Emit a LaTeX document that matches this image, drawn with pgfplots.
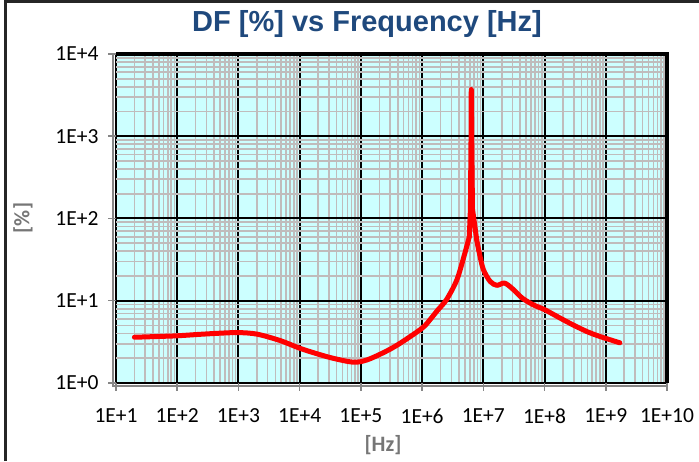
\documentclass[border=0pt]{standalone}
\usepackage{fontspec}
\setmainfont{Carlito}
\newfontfamily\arialfont{Liberation Sans}
\usepackage{pgfplots}
\pgfplotsset{compat=1.18}
\definecolor{bgcyan}{RGB}{204,255,255}
\definecolor{minorgray}{RGB}{192,188,188}
\definecolor{titleblue}{RGB}{31,73,125}
\definecolor{labelgray}{RGB}{118,118,118}
\definecolor{axisgray}{RGB}{134,134,134}
\begin{document}
\begin{tikzpicture}
\path[use as bounding box] (0pt,0pt) rectangle (699pt,461pt);
\begin{axis}[
  at={(116pt,78pt)}, anchor=south west,
  scale only axis, width=551pt, height=329pt,
  xmode=log, ymode=log,
  xmin=10, xmax=1e10, ymin=1, ymax=1e4,
  axis background/.style={fill=bgcyan},
  axis line style={draw=none},
  grid=both,
  major grid style={black, line width=2pt},
  minor grid style={minorgray, line width=1.6pt},
  xtick={1e1,1e2,1e3,1e4,1e5,1e6,1e7,1e8,1e9,1e10},
  xticklabels={1E+1,1E+2,1E+3,1E+4,1E+5,1E+6,1E+7,1E+8,1E+9,1E+10},
  ytick={1,1e1,1e2,1e3,1e4},
  yticklabels={1E+0,1E+1,1E+2,1E+3,1E+4},
  tick align=outside,
  xtick pos=bottom, ytick pos=left,
  major tick length=8pt, minor tick length=0pt,
  tick style={axisgray, line width=1.5pt},
  tick label style={font=\fontsize{21.5}{21.5}\selectfont, text=black},
  xticklabel style={yshift=-14pt},
  yticklabel style={xshift=-6pt},
  clip=false,
]
\addplot[red, line width=5pt, line join=round, line cap=round, no marks, smooth, tension=0.5] coordinates {
(20,3.6) (50,3.68) (100,3.75) (300,3.95) (930,4.1) (2000,3.93) (4800,3.28)
(1e4,2.65) (1.8e4,2.3) (3.5e4,2.0) (7.6e4,1.79) (1.26e5,1.91) (2.5e5,2.4)
(4.4e5,3.05) (1e6,4.64) (1.35e6,5.9) (1.8e6,7.7) (2.5e6,10.3) (3.7e6,18) (5.0e6,38)
(5.9e6,60)
};
\addplot[red, line width=5pt, line join=round, line cap=round, no marks] coordinates {
(5.9e6,60) (6.15e6,130) (6.3e6,1000) (6.35e6,3700) (6.45e6,1000)
(6.65e6,130) (7.8e6,55)
};
\addplot[red, line width=5pt, line join=round, line cap=round, no marks, smooth, tension=0.5] coordinates {
(7.8e6,55) (8.6e6,38) (1e7,24) (1.29e7,17.2) (1.66e7,15.4)
(2.2e7,16.4) (2.9e7,14.3) (4.3e7,10.8) (6.6e7,8.9) (1e8,7.8) (1.8e8,6.15)
(2.9e8,5.1) (5e8,4.2) (8.1e8,3.67) (1.7e9,3.08)
};
\draw[axisgray, line width=2pt] ([xshift=-3pt]rel axis cs:0,1) -- ([xshift=-3pt,yshift=-3pt]rel axis cs:0,0) -- ([yshift=-3pt]rel axis cs:1,0);
\draw[black, line width=4pt] (rel axis cs:0,1) -- (rel axis cs:1,1) -- (rel axis cs:1,0);
\end{axis}
\node[anchor=base, text=titleblue, font=\arialfont\bfseries\fontsize{29}{29}\selectfont] at (367pt,429.5pt) {DF [\%] vs Frequency [Hz]};
\node[rotate=90, text=labelgray, font=\bfseries\fontsize{22}{22}\selectfont] at (23pt,243pt) {[\%]};
\node[text=labelgray, font=\bfseries\fontsize{22}{22}\selectfont] at (383pt,16pt) {[Hz]};
\draw[black!85, line width=3pt] (5.5pt,0pt) -- (5.5pt,459.5pt) -- (699pt,459.5pt);
\end{tikzpicture}
\end{document}
